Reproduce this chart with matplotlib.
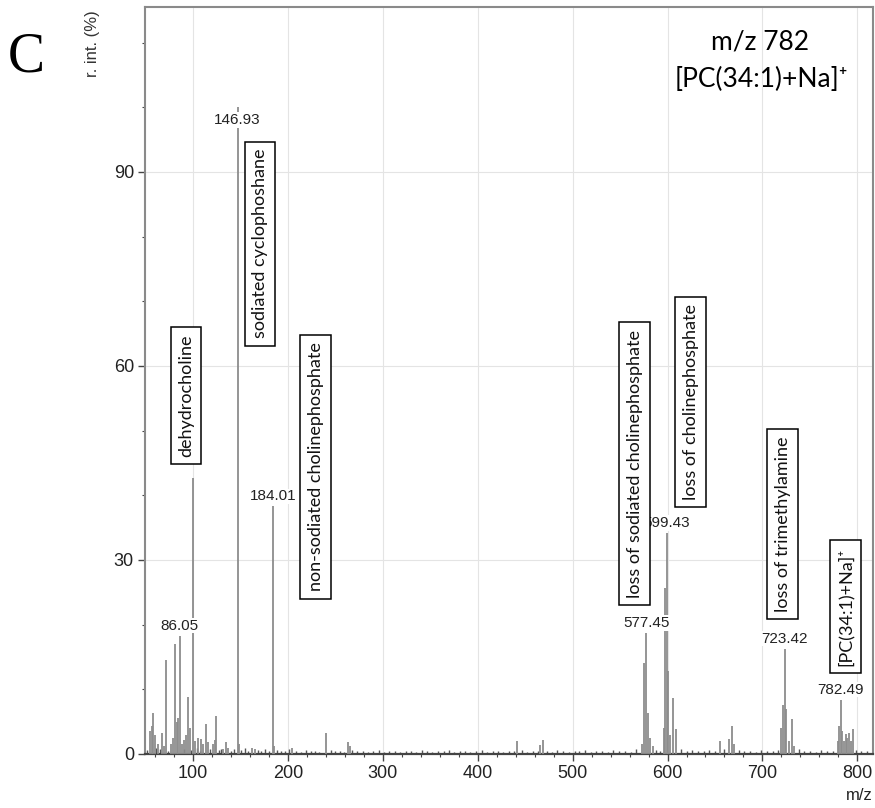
import matplotlib.pyplot as plt
from matplotlib.ticker import MultipleLocator

plt.rcParams['font.family'] = ['Liberation Sans', 'DejaVu Sans']

# main peaks (m/z, relative intensity in %)
peak_mz = [55, 56.5, 58, 60, 63, 67.8, 69, 72, 77, 79,
           81, 83, 84.5, 86.05, 88, 91, 93, 95, 97, 100,
           102, 105, 108.8, 111, 113.4, 116, 121, 123, 124.6, 132,
           134.4, 137, 146.93, 148.5, 162, 165, 184.01, 185.5, 204.5, 240.3,
           263, 265, 441.5, 466, 468.4, 573, 575.5, 577.45, 579, 581,
           585, 596, 597.5, 599.43, 601, 603, 606, 609, 655, 665,
           668, 670, 720, 721.5, 723.42, 725, 728, 731.4, 733, 780,
           781, 782.49, 784, 786, 788, 789.5, 791, 793, 795]
peak_int = [3.5, 4.3, 6.3, 3.0, 1.5, 3.2, 1.2, 14.5, 1.5, 2.5,
            17.0, 5.0, 5.5, 18.3, 1.5, 2.2, 3.0, 8.8, 4.0, 42.7,
            2.0, 2.4, 2.3, 1.5, 4.6, 1.8, 1.5, 2.2, 5.8, 0.8,
            1.8, 1.0, 100.0, 1.5, 0.9, 0.8, 38.3, 1.2, 0.9, 3.2,
            1.8, 1.3, 2.0, 1.4, 2.2, 1.5, 14.0, 18.7, 6.4, 2.5,
            1.2, 4.0, 25.7, 34.2, 12.8, 3.0, 8.6, 3.8, 2.0, 2.3,
            4.3, 1.5, 4.0, 7.6, 16.3, 7.0, 2.0, 5.4, 1.3, 2.0,
            4.4, 8.4, 3.6, 2.0, 3.1, 2.5, 3.2, 2.0, 3.9]

# baseline noise
noise_mz = [52, 61, 65, 74, 90, 98, 104, 107, 118, 127, 130, 140, 143, 151, 155, 158,
            168, 172, 176, 180, 189, 193, 197, 201, 209, 214, 219, 224, 229, 233, 245,
            250, 255, 259, 268, 273, 279, 284, 290, 296, 301, 307, 313, 318, 324, 330,
            335, 341, 347, 352, 358, 364, 370, 375, 381, 387, 392, 398, 404, 410, 416,
            421, 427, 433, 438, 447, 452, 458, 463, 473, 478, 484, 490, 496, 502, 507,
            513, 519, 525, 531, 537, 543, 549, 555, 561, 567, 588, 592, 614, 620, 626,
            632, 638, 644, 650, 660, 675, 681, 687, 693, 699, 705, 711, 716, 738, 744,
            750, 756, 762, 768, 774, 799, 804, 810]
noise_int = [0.6, 0.9, 0.7, 0.5, 0.8, 0.6, 0.9, 0.5, 0.7, 0.6, 0.8, 0.5, 0.7, 0.6, 0.9, 0.4,
             0.6, 0.5, 0.7, 0.4, 0.6, 0.5, 0.4, 0.7, 0.5, 0.3, 0.6, 0.4, 0.5, 0.3, 0.6,
             0.4, 0.5, 0.3, 0.6, 0.4, 0.5, 0.3, 0.4, 0.6, 0.3, 0.5, 0.4, 0.3, 0.5, 0.4,
             0.3, 0.6, 0.4, 0.3, 0.5, 0.4, 0.6, 0.3, 0.4, 0.5, 0.3, 0.4, 0.6, 0.3, 0.5,
             0.4, 0.3, 0.5, 0.4, 0.6, 0.3, 0.5, 0.4, 0.5, 0.3, 0.6, 0.4, 0.3, 0.5, 0.4,
             0.6, 0.3, 0.5, 0.4, 0.3, 0.6, 0.4, 0.5, 0.3, 0.7, 0.6, 0.5, 0.7, 0.4, 0.6,
             0.5, 0.4, 0.6, 0.5, 0.7, 0.6, 0.4, 0.5, 0.3, 0.6, 0.4, 0.5, 0.6, 0.7, 0.4,
             0.5, 0.3, 0.6, 0.4, 0.5, 0.6, 0.5, 0.4]

label_mz = [86.05, 146.93, 184.01, 577.45, 599.43, 723.42, 782.49]

box_text = ['dehydrocholine', 'sodiated cyclophoshane', 'non-sodiated cholinephosphate',
            'loss of sodiated cholinephosphate', 'loss of cholinephosphate',
            'loss of trimethylamine', '[PC(34:1)+Na]⁺']
box_x = [92.6, 170.6, 229.1, 565.2, 624.2, 721.2, 787.6]
box_y = [55.4, 78.9, 44.4, 44.9, 54.4, 35.5, 22.8]

calibri_like = ['Lato', 'DejaVu Sans']

fig = plt.figure(figsize=(8.75, 8.08), dpi=100)
ax = fig.add_axes([145 / 875, 1 - 754 / 808, 728 / 875, 747 / 808])

ax.vlines(noise_mz, 0, noise_int, color='#555555', lw=1.0, zorder=2)
ax.vlines(peak_mz, 0, peak_int, color='#8c8c8c', lw=1.3, zorder=3)

for mz in label_mz:
    h = peak_int[peak_mz.index(mz)]
    off = -13 if h >= 99 else 10
    ax.annotate(f'{mz:.2f}', (mz, h), xytext=(0, off), textcoords='offset pixels',
                ha='center', va='center', fontsize=11, color='#222222', zorder=4,
                bbox=dict(boxstyle='square,pad=0.05', fc='white', ec='none'))

for t, x, y in zip(box_text, box_x, box_y):
    ax.text(x, y, t, rotation=90, ha='center', va='center', fontsize=13,
            family=calibri_like, color='#111111', zorder=5,
            bbox=dict(boxstyle='square,pad=0.4', fc='white', ec='black', lw=1.1))

ax.set_xlim(49.4, 816.5)
ax.set_ylim(0, 115.5)
ax.xaxis.set_major_locator(MultipleLocator(100))
ax.xaxis.set_minor_locator(MultipleLocator(20))
ax.yaxis.set_major_locator(MultipleLocator(30))
ax.yaxis.set_minor_locator(MultipleLocator(10))
ax.tick_params(which='major', length=5, width=1, color='#444444', labelsize=13,
               labelcolor='#222222', pad=3)
ax.tick_params(which='minor', length=2.5, width=0.8, color='#444444')
ax.grid(which='major', color='#e4e4e4', lw=0.8)
ax.set_axisbelow(True)

for s in ['left', 'top', 'right']:
    ax.spines[s].set_color('#8a8a8a')
    ax.spines[s].set_linewidth(1.5)
ax.spines['bottom'].set_color('#444444')
ax.spines['bottom'].set_linewidth(1.6)

ax.text(1.0, -0.055, 'm/z', transform=ax.transAxes, ha='right', va='center',
        fontsize=12, color='#222222')
fig.text(92 / 875, 1 - 44 / 808, 'r. int. (%)', rotation=90, ha='center', va='center',
         fontsize=12, color='#333333')
fig.text(26 / 875, 1 - 57 / 808, 'C', ha='center', va='center', fontsize=40,
         family='Liberation Serif')
fig.text(760 / 875, 1 - 42 / 808, 'm/z 782', ha='center', va='center', fontsize=19,
         family=calibri_like)
fig.text(761 / 875, 1 - 79 / 808, '[PC(34:1)+Na]⁺', ha='center', va='center',
         fontsize=19, family=calibri_like)

fig.savefig('out.png', dpi=100)
